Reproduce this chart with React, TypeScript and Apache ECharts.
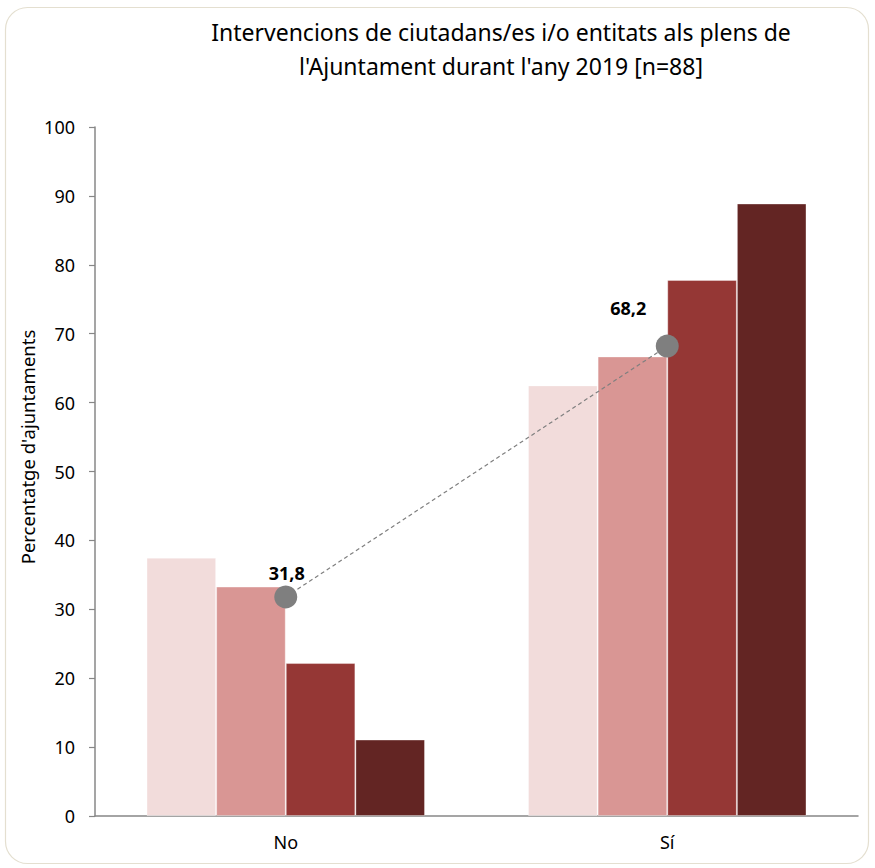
import React, { useEffect, useRef } from "react";
import * as echarts from "echarts";

const categories = ["No", "Sí"];
const seriesNames = ["Grup 1", "Grup 2", "Grup 3", "Grup 4"];
const series1 = [37.5, 62.5];
const series2 = [33.3, 66.7];
const series3 = [22.2, 77.8];
const series4 = [11.1, 88.9];
const totalValues = [31.8, 68.2];
const titleLines = [
  "Intervencions de ciutadans/es i/o entitats als plens de",
  "l'Ajuntament durant l'any 2019 [n=88]",
];
const yAxisName = "Percentatge d'ajuntaments";
const barColors = ["#F2DCDB", "#D99694", "#953735", "#632523"];

const FONT = "'Noto Sans', 'Open Sans', sans-serif";

export default function App() {
  const ref = useRef<HTMLDivElement>(null);
  useEffect(() => {
    document.body.style.margin = "0";
    const chart = echarts.init(ref.current!, null, { renderer: "svg" });
    const barData = [series1, series2, series3, series4];
    const labelOffsets = [
      [1, 0],
      [-39, -15],
    ];
    chart.setOption({
      animation: false,
      backgroundColor: "#ffffff",
      textStyle: { fontFamily: FONT },
      title: {
        text: titleLines.join("\n"),
        left: 501,
        top: 15,
        padding: 0,
        textAlign: "center",
        textStyle: {
          fontFamily: FONT,
          fontSize: 23,
          fontWeight: "normal",
          lineHeight: 34,
          color: "#000",
        },
      },
      graphic: [
        {
          type: "rect",
          shape: { x: 5.5, y: 7.5, width: 863, height: 856, r: 22 },
          style: { fill: "none", stroke: "#E4DFD0", lineWidth: 1.2 },
          z: -1,
        },
        {
          type: "text",
          x: 27,
          y: 447,
          rotation: Math.PI / 2,
          style: {
            text: yAxisName,
            fontFamily: FONT,
            fontSize: 18.5,
            fill: "#000",
            align: "center",
            verticalAlign: "middle",
          },
        },
      ],
      grid: { left: 95, right: 17, top: 127, bottom: 52, containLabel: false },
      xAxis: {
        type: "category",
        data: categories,
        axisLine: { lineStyle: { color: "#878787", width: 1.5 } },
        axisTick: { show: false },
        axisLabel: { color: "#000", fontSize: 18, margin: 17, fontFamily: FONT },
      },
      yAxis: {
        type: "value",
        min: 0,
        max: 100,
        interval: 10,
        splitLine: { show: false },
        axisLine: { show: true, lineStyle: { color: "#878787", width: 1.5 } },
        axisTick: { show: true, length: 6, lineStyle: { color: "#878787", width: 1.2 } },
        axisLabel: { color: "#000", fontSize: 18, margin: 20, fontFamily: FONT },
      },
      series: [
        ...barData.map((d, i) => ({
          name: seriesNames[i],
          type: "bar",
          data: d,
          barGap: "0%",
          barCategoryGap: "27%",
          itemStyle: {
            color: barColors[i],
            borderColor: "rgba(255,255,255,0.35)",
            borderWidth: 1,
          },
        })),
        {
          name: "Total",
          type: "line",
          data: totalValues.map((v, i) => ({
            value: v,
            label: { offset: labelOffsets[i] },
          })),
          symbol: "circle",
          symbolSize: 23,
          z: 5,
          lineStyle: { color: "#7F7F7F", width: 1.2, type: [4, 3] },
          itemStyle: { color: "#7F7F7F" },
          label: {
            show: true,
            position: "top",
            distance: 3,
            color: "#000",
            fontWeight: "bold",
            fontSize: 18,
            fontFamily: FONT,
            formatter: (p: any) => String(p.value).replace(".", ","),
          },
        },
      ],
    });
    return () => chart.dispose();
  }, []);
  return <div ref={ref} style={{ width: 875, height: 868 }} />;
}
